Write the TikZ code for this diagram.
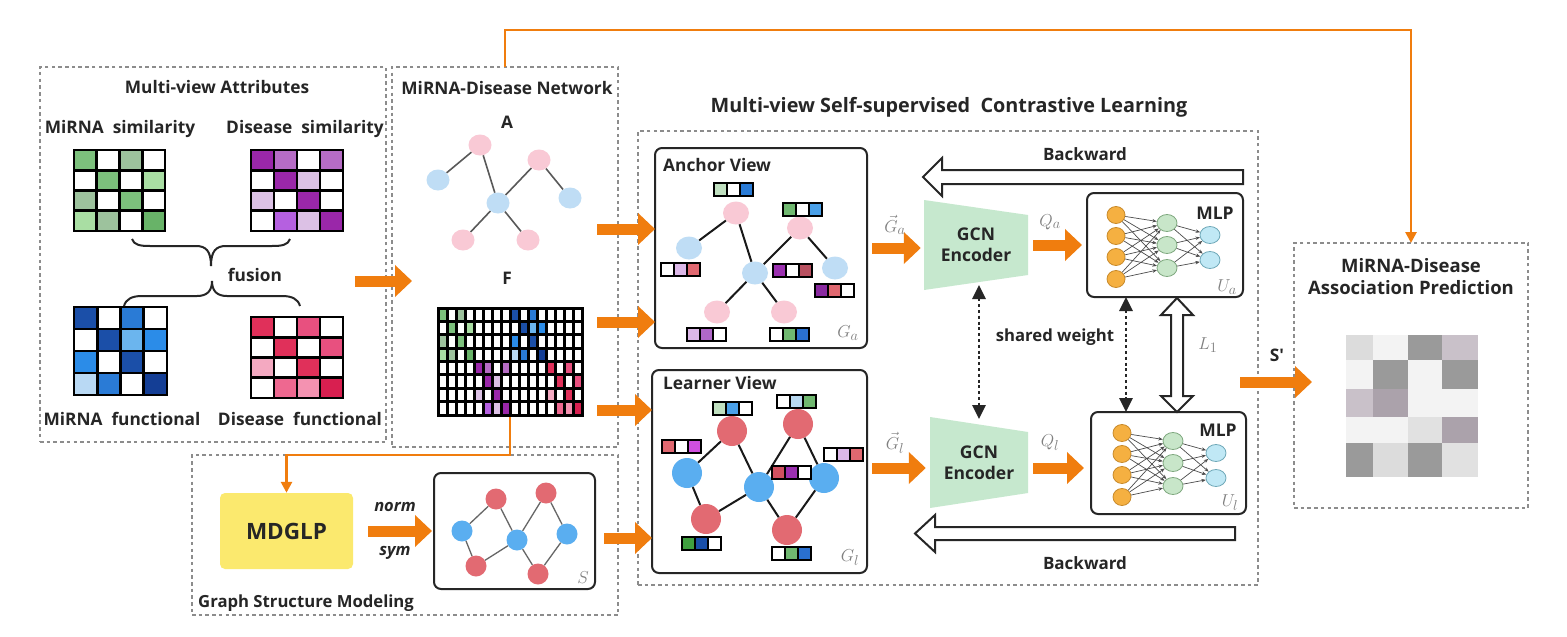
\documentclass[tikz,border=0pt]{standalone}
\usepackage{fontspec}
\setmainfont{Open Sans}
\usetikzlibrary{arrows.meta,shapes.geometric,calc}

\definecolor{ora}{HTML}{F07D0E}
\definecolor{W}{HTML}{FFFFFF}
\definecolor{gM}{HTML}{7CC07C}\definecolor{gS}{HTML}{9DC29D}\definecolor{gL}{HTML}{A9DEA3}\definecolor{gD}{HTML}{68B368}
\definecolor{pD}{HTML}{9A27A9}\definecolor{pM}{HTML}{B66CC5}\definecolor{pL}{HTML}{DCC1E5}\definecolor{pV}{HTML}{B560E0}
\definecolor{bD}{HTML}{1B4FA8}\definecolor{bM}{HTML}{2A7BD6}\definecolor{bL}{HTML}{6BB5EE}\definecolor{bB}{HTML}{2B8CE8}\definecolor{bP}{HTML}{B9D9F4}\definecolor{bN}{HTML}{143E95}
\definecolor{rD}{HTML}{E0305A}\definecolor{rM}{HTML}{E8507F}\definecolor{rP}{HTML}{F4A9C1}\definecolor{rR}{HTML}{EE6890}\definecolor{rQ}{HTML}{F492B1}\definecolor{rN}{HTML}{D81F50}
% feature vector colours
\definecolor{fgl}{HTML}{C0E0C0}\definecolor{fga}{HTML}{70B870}\definecolor{fgd}{HTML}{40A040}
\definecolor{fbl}{HTML}{4AA0E8}\definecolor{fbb}{HTML}{2A70D0}\definecolor{fbx}{HTML}{B8D8F0}\definecolor{fbd}{HTML}{1A4FA8}
\definecolor{fpl}{HTML}{DCB8E8}\definecolor{fpa}{HTML}{9B30B0}\definecolor{fpm}{HTML}{B068C8}\definecolor{fpd}{HTML}{8A2AA0}\definecolor{fmg}{HTML}{D050E0}
\definecolor{fra}{HTML}{E06870}\definecolor{frd}{HTML}{B85060}\definecolor{frm}{HTML}{D05060}
% graph nodes
\definecolor{lpink}{HTML}{F9C9D5}\definecolor{lblue}{HTML}{BFDDF5}
\definecolor{nred}{HTML}{E26A72}\definecolor{nblue}{HTML}{5AAEF0}
% MLP
\definecolor{mof}{HTML}{F5B041}\definecolor{mod}{HTML}{C88A2A}
\definecolor{mgf}{HTML}{C8E6C9}\definecolor{mgd}{HTML}{7FA87F}
\definecolor{mbf}{HTML}{C0E8F5}\definecolor{mbd}{HTML}{6FA8B8}
\definecolor{gcn}{HTML}{C6E8CE}
\definecolor{ylw}{HTML}{FBE96E}
% heatmap
\definecolor{hA}{HTML}{DCDCDC}\definecolor{hW}{HTML}{F3F3F3}\definecolor{hK}{HTML}{9A9A9A}
\definecolor{hP}{HTML}{C9C1C9}\definecolor{hQ}{HTML}{ABA2AB}\definecolor{hE}{HTML}{E1E1E1}

\newcommand{\mymat}[6]{%
  \foreach \cl [count=\i from 0] in {#6} {%
    \pgfmathtruncatemacro{\rr}{\i/4}%
    \pgfmathtruncatemacro{\cc}{\i-4*\rr}%
    \filldraw[fill=\cl, draw=black, line width=#5] ({#1+\cc*#3},{#2+\rr*#4}) rectangle +(#3,#4);
  }}
\newcommand{\fvec}[5]{%
  \foreach \cl [count=\i from 0] in {#3,#4,#5}
    \filldraw[fill=\cl, draw=black, line width=2.2pt] ({#1+\i*13},#2) rectangle +(13,13);}
\newcommand{\mlpnet}[3]{%
  \begin{scope}[shift={(#2,#3)}]
    \foreach \yy [count=\i] in {215,236,257,279} \node[mo] (#1o\i) at (1116,\yy) {};
    \foreach \yy [count=\i] in {223,245,268} \node[mg] (#1g\i) at (1167,\yy) {};
    \foreach \yy [count=\i] in {235,260} \node[mb] (#1b\i) at (1210,\yy) {};
    \foreach \i in {1,...,4} \foreach \j in {1,2,3} \draw[marr] (#1o\i) -- (#1g\j);
    \foreach \i in {1,2,3} \foreach \j in {1,2} \draw[marr] (#1g\i) -- (#1b\j);
  \end{scope}}

\begin{document}
\begin{tikzpicture}[x=1pt,y=-1pt,
  dbox/.style={draw=black!45, line width=1.8pt, dash pattern=on 3.5pt off 3.2pt, inner sep=0, outer sep=0},
  vbox/.style={draw=black!85, line width=2pt, rounded corners=7pt, inner sep=0, outer sep=0},
  lbl/.style={font=\bfseries\fontsize{17.3}{21}\selectfont, text=black!85, inner sep=0},
  big/.style={font=\bfseries\fontsize{19.8}{24}\selectfont, text=black!85, inner sep=0},
  mlab/.style={text=black!50, font=\fontsize{19}{23}\selectfont, inner sep=0},
  oarrow/.style={draw=ora, line width=11pt, -{Triangle[length=17pt,width=31pt]}},
  oline/.style={draw=ora, line width=2.6pt, -{Triangle[length=11pt,width=11pt]}},
  lp/.style={ellipse, minimum width=23pt, minimum height=21pt, fill=lpink, inner sep=0},
  lb/.style={ellipse, minimum width=23pt, minimum height=21pt, fill=lblue, inner sep=0},
  ap/.style={ellipse, minimum width=26pt, minimum height=23pt, fill=lpink, inner sep=0},
  ab/.style={ellipse, minimum width=26pt, minimum height=23pt, fill=lblue, inner sep=0},
  lr/.style={circle, minimum size=30pt, fill=nred, inner sep=0},
  lu/.style={circle, minimum size=30pt, fill=nblue, inner sep=0},
  sr/.style={circle, minimum size=21pt, fill=nred, inner sep=0},
  su/.style={circle, minimum size=21pt, fill=nblue, inner sep=0},
  aedge/.style={draw=black!65, line width=1.6pt},
  vedge/.style={draw=black!90, line width=2pt},
  sedge/.style={draw=black!60, line width=1.3pt},
  mo/.style={ellipse, minimum width=18pt, minimum height=17pt, fill=mof, draw=mod, line width=0.8pt, inner sep=0},
  mg/.style={ellipse, minimum width=20pt, minimum height=17pt, fill=mgf, draw=mgd, line width=0.8pt, inner sep=0},
  mb/.style={ellipse, minimum width=20pt, minimum height=17pt, fill=mbf, draw=mbd, line width=0.8pt, inner sep=0},
  marr/.style={draw=black!70, line width=0.7pt, -{Stealth[length=4.5pt,width=3.5pt]}},
  dotarr/.style={draw=black!85, line width=2.8pt, dash pattern=on 3pt off 2.8pt,
     {Triangle[length=14pt,width=13pt]}-{Triangle[length=14pt,width=13pt]}},
  hollow/.style={draw=black!85, line width=2pt, fill=white, line join=miter},
]
\useasboundingbox (0,0) rectangle (1567,637);
\fill[white] (0,0) rectangle (1567,637);

% ---------- dashed frames ----------
\node[dbox, minimum width=346pt, minimum height=375pt] (B1) at (213,254.5) {};
\node[dbox, minimum width=226pt, minimum height=380pt] (B2) at (505,257) {};
\node[dbox, minimum width=426pt, minimum height=160pt] (B3) at (405,535) {};
\node[dbox, minimum width=620pt, minimum height=454pt] (B4) at (948,358) {};
\node[dbox, minimum width=234pt, minimum height=265pt] (P) at (1411,375.5) {};

% ---------- Multi-view attributes ----------
\node[lbl] (t1) at (217,87) {Multi-view Attributes};
\node[lbl] (t2) at (120,129) {MiRNA~~similarity};
\node[lbl] (t3) at (305,129) {Disease~~similarity};
\node[lbl] (t4) at (122,419) {MiRNA~~functional};
\node[lbl] (t5) at (300,419) {Disease~~functional};
\node[lbl] (t6) at (255,275) {fusion};

\mymat{74}{150}{22.75}{20.25}{2.6pt}{gM,W,gS,W, W,gM,W,gL, gS,W,gM,W, gL,gS,W,gD}
\mymat{251}{150}{23}{20.25}{2.6pt}{pD,pM,W,pM, W,pD,pL,W, pL,W,pD,W, W,pV,pL,pD}
\mymat{74}{307}{23.25}{22}{2.6pt}{bD,W,bM,W, W,bD,bL,bB, bB,W,bD,W, bP,bM,W,bN}
\mymat{251}{317}{23}{20.25}{2.6pt}{rD,W,rM,W, W,rD,W,rM, rP,W,rD,W, W,rR,rQ,rN}

% braces
\draw[line width=2pt, black!85] (132,239) .. controls (134,245) and (140,246) .. (150,246) -- (196,246) .. controls (206,246) and (211,251) .. (211,266);
\draw[line width=2pt, black!85] (290,239) .. controls (288,245) and (282,246) .. (272,246) -- (226,246) .. controls (216,246) and (211,251) .. (211,266);
\draw[line width=2pt, black!85] (124,306) .. controls (126,299) and (132,296) .. (142,296) -- (197,296) .. controls (207,296) and (212,291) .. (212,281);
\draw[line width=2pt, black!85] (300,306) .. controls (298,299) and (292,296) .. (282,296) -- (227,296) .. controls (217,296) and (212,291) .. (212,281);

% ---------- MiRNA-Disease network ----------
\node[lbl] (t7) at (507,88) {MiRNA-Disease Network};
\node[lbl] (tA) at (507,122) {A};
\node[lbl] (tF) at (507,278) {F};
\node[lp] (a1) at (480,145) {};
\node[lb] (a2) at (438,180) {};
\node[lp] (a3) at (539,160) {};
\node[lb] (a4) at (498,203) {};
\node[lb] (a5) at (570,198) {};
\node[lp] (a6) at (463,240) {};
\node[lp] (a7) at (528,240) {};
\foreach \u/\v in {a1/a2,a1/a4,a3/a4,a3/a5,a4/a6,a4/a7} \draw[aedge] (\u) -- (\v);

\foreach \r in {0,...,7} \foreach \cc in {0,...,15}
  \draw[line width=3pt, fill=white] ({438+\cc*9},{308+\r*13.375}) rectangle +(9,13.375);
\mymat{438}{308}{9}{13.375}{3pt}{gM,W,gS,W, W,gM,W,gL, gS,W,gM,W, gL,gS,W,gD}
\mymat{510}{308}{9}{13.375}{3pt}{bD,W,bM,W, W,bD,bL,bB, bB,W,bD,W, bP,bM,W,bN}
\mymat{474}{361.5}{9}{13.375}{3pt}{pD,pM,W,pM, W,pD,pL,W, pL,W,pD,W, W,pV,pL,pD}
\mymat{546}{361.5}{9}{13.375}{3pt}{rD,W,rM,W, W,rD,W,rM, rP,W,rD,W, W,rR,rQ,rN}

% fusion -> network
\coordinate (f1) at (355,281);
\draw[oarrow] (f1) -- ([xshift=20pt]f1 -| B2.west);

% ---------- Graph structure modeling ----------
\node[lbl, anchor=west, font=\bfseries\fontsize{16.7}{20}\selectfont] (t8) at (198,603) {Graph Structure Modeling};
\node[fill=ylw, rounded corners=5pt, minimum width=133pt, minimum height=76pt, inner sep=0,
      font=\bfseries\fontsize{22.5}{27}\selectfont, text=black!85] (md) at (286.5,531) {MDGLP};
\node[vbox, minimum width=161pt, minimum height=116pt] (sb) at (514.5,531) {};
\node[font=\bfseries\itshape\fontsize{16.5}{20}\selectfont, text=black!85, inner sep=0] (tn) at (395,507) {norm};
\node[font=\bfseries\itshape\fontsize{16.5}{20}\selectfont, text=black!85, inner sep=0] (ts) at (395,553) {sym};
\draw[oarrow] ([xshift=15pt]md.east) -- ([xshift=-2pt]md.east -| sb.west);

\node[sr] (s1) at (496,499) {};
\node[sr] (s2) at (546,493) {};
\node[su] (s3) at (462,531) {};
\node[su] (s4) at (517,540) {};
\node[su] (s5) at (567,534) {};
\node[sr] (s6) at (476,566) {};
\node[sr] (s7) at (538,574) {};
\foreach \u/\v in {s3/s1,s1/s4,s3/s6,s6/s4,s4/s2,s2/s5,s4/s7,s7/s5} \draw[sedge] (\u) -- (\v);
\node[mlab] (mS) at (583,578) {$S$};

% F -> MDGLP
\coordinate (fb) at (510,417);
\draw[oline] (fb) -- ++(0,38) -| (md.north);
% network -> prediction
\draw[oline] (B2.north) -- ++(0,-37) -| (P.north);

% ---------- Contrastive learning ----------
\node[big] (t9) at (949,107) {Multi-view Self-supervised~~Contrastive Learning};

\node[vbox, minimum width=212pt, minimum height=200pt] (av) at (761,248) {};
\node[vbox, minimum width=215pt, minimum height=203pt] (lv) at (759.5,471.5) {};
\node[lbl, anchor=west] (t10) at (663,165) {Anchor View};
\node[lbl, anchor=west] (t11) at (663,383) {Learner View};

\coordinate (i1) at (597,229);
\coordinate (i2) at (597,322);
\coordinate (i3) at (597,410);
\coordinate (i4) at (604,538);
\draw[oarrow] (i1) -- (i1 -| av.west);
\draw[oarrow] (i2) -- (i2 -| av.west);
\draw[oarrow] (i3) -- (i3 -| lv.west);
\draw[oarrow] (i4) -- (i4 -| lv.west);

% anchor graph
\node[ap] (n1) at (736,213) {};
\node[ap] (n2) at (800,228) {};
\node[ab] (n3) at (689,248) {};
\node[ab] (n4) at (755,273) {};
\node[ab] (n5) at (835,268) {};
\node[ap] (n6) at (717,312) {};
\node[ap] (n7) at (784,312) {};
\foreach \u/\v in {n1/n3,n1/n4,n2/n4,n2/n5,n4/n6,n4/n7} \draw[vedge] (\u) -- (\v);
\fvec{714}{183}{fgl}{W}{bM}
\fvec{783}{203}{fga}{W}{fbl}
\fvec{661}{263}{W}{fpl}{fra}
\fvec{773}{264}{fpa}{W}{frd}
\fvec{815}{284}{fpd}{fra}{W}
\fvec{687}{328}{fpl}{fpm}{W}
\fvec{770}{328}{W}{fga}{fbb}
\node[mlab] (mGa) at (848,333) {$G_a$};

% learner graph
\node[lr] (l1) at (732,431) {};
\node[lr] (l2) at (798,424) {};
\node[lu] (l3) at (687,473) {};
\node[lu] (l4) at (759,487) {};
\node[lu] (l5) at (824,478) {};
\node[lr] (l6) at (706,519) {};
\node[lr] (l7) at (787,530) {};
\foreach \u/\v in {l3/l1,l1/l4,l3/l6,l6/l4,l4/l2,l2/l5,l4/l7,l7/l5} \draw[vedge] (\u) -- (\v);
\fvec{713}{402}{fgl}{fbl}{W}
\fvec{777}{395}{W}{fbx}{fga}
\fvec{662}{440}{fra}{W}{fmg}
\fvec{772}{466}{frm}{fpa}{W}
\fvec{824}{448}{W}{fpl}{fra}
\fvec{682}{537}{fgd}{fbd}{W}
\fvec{772}{547}{W}{fga}{fbb}
\node[mlab] (mGl) at (850,558) {$G_l$};

% GCN encoders
\fill[gcn] (924,200) -- (1028,215) -- (1028,275) -- (924,290) -- cycle;
\fill[gcn] (930,417) -- (1028,432) -- (1028,493) -- (930,508) -- cycle;
\node[lbl, align=center, font=\bfseries\fontsize{17.5}{21}\selectfont, minimum width=104pt, minimum height=60pt] (gA) at (976,245) {GCN\\Encoder};
\node[lbl, align=center, font=\bfseries\fontsize{17.5}{21}\selectfont, minimum width=98pt, minimum height=61pt] (gL) at (979,462.5) {GCN\\Encoder};

% MLP boxes
\node[vbox, minimum width=156pt, minimum height=104pt] (ma) at (1165,245) {};
\node[vbox, minimum width=155pt, minimum height=102pt] (ml) at (1168.5,463) {};
\node[lbl, font=\bfseries\fontsize{17.5}{21}\selectfont] (tm1) at (1215,213) {MLP};
\node[lbl, font=\bfseries\fontsize{17.5}{21}\selectfont] (tm2) at (1218,430) {MLP};
\mlpnet{A}{0}{0}
\mlpnet{L}{6}{218}
\node[mlab] (mUa) at (1227,287) {$U_a$};
\node[mlab] (mUl) at (1230,503) {$U_l$};

% orange arrows in learning part
\coordinate (ga) at (872,248);
\coordinate (gl) at (872,468);
\coordinate (qa) at (1033,245);
\coordinate (ql) at (1033,468);
\draw[oarrow] (ga) -- ([xshift=-3pt]ga -| gA.west);
\draw[oarrow] (gl) -- ([xshift=-4pt]gl -| gL.west);
\draw[oarrow] (qa) -- ([xshift=-5pt]qa -| ma.west);
\draw[oarrow] (ql) -- ([xshift=-7pt]ql -| ml.west);
\node[mlab] (mga) at (895,225) {$\vec{G}_a$};
\node[mlab] (mgl) at (895,443) {$\vec{G}_l$};
\node[mlab] (mqa) at (1050,222) {$Q_a$};
\node[mlab] (mql) at (1050,443) {$Q_l$};

% dotted shared-weight arrows
\coordinate (da) at (979,285);
\coordinate (dl) at (979,419);
\draw[dotarr] (da) -- (dl);
\draw[dotarr] ([xshift=-39pt]ma.south) -- ([xshift=-39pt]ma.south |- ml.north);
\node[lbl, font=\bfseries\fontsize{16.7}{20}\selectfont] (tsw) at (1055,337) {shared weight};

% L1 hollow double arrow
\draw[hollow] (1177,298) -- (1193,315) -- (1183,315) -- (1183,396) -- (1193,396) -- (1177,412)
  -- (1161,396) -- (1171,396) -- (1171,315) -- (1161,315) -- cycle;
\node[mlab] (mL) at (1208,345) {$L_1$};

% Backward arrows
\draw[hollow] (1243,170) -- (942,170) -- (942,158) -- (923,177) -- (942,196) -- (942,184) -- (1243,184) -- cycle;
\draw[hollow] (1235,527) -- (935,527) -- (935,515) -- (915,533.5) -- (935,552) -- (935,540) -- (1235,540) -- cycle;
\node[lbl, font=\bfseries\fontsize{17}{21}\selectfont] (tb1) at (1085,154) {Backward};
\node[lbl, font=\bfseries\fontsize{17}{21}\selectfont] (tb2) at (1085,563) {Backward};

% ---------- Prediction ----------
\coordinate (sp) at (1240,382);
\draw[oarrow] (sp) -- ([xshift=18pt]sp -| P.west);
\node[lbl] (tsp) at (1277,355) {S\textquotesingle};
\node[lbl, align=center, font=\bfseries\fontsize{18.5}{22}\selectfont] (tp) at (1411,277) {MiRNA-Disease\\Association Prediction};

\fill[hA] (1346,335) rectangle (1373,360); \fill[hW] (1373,335) rectangle (1408,360);
\fill[hK] (1408,335) rectangle (1442,360); \fill[hP] (1442,335) rectangle (1478,360);
\fill[hW] (1346,360) rectangle (1373,389); \fill[hK] (1373,360) rectangle (1408,389);
\fill[hW] (1408,360) rectangle (1442,389); \fill[hK] (1442,360) rectangle (1478,389);
\fill[hP] (1346,389) rectangle (1373,417); \fill[hQ] (1373,389) rectangle (1408,417);
\fill[hW] (1408,389) rectangle (1442,417); \fill[hW] (1442,389) rectangle (1478,417);
\fill[hW] (1346,417) rectangle (1373,443); \fill[hW] (1373,417) rectangle (1408,443);
\fill[hE] (1408,417) rectangle (1442,443); \fill[hQ] (1442,417) rectangle (1478,443);
\fill[hK] (1346,443) rectangle (1373,477); \fill[hA] (1373,443) rectangle (1408,477);
\fill[hK] (1408,443) rectangle (1442,477); \fill[hE] (1442,443) rectangle (1478,477);
\end{tikzpicture}
\end{document}
